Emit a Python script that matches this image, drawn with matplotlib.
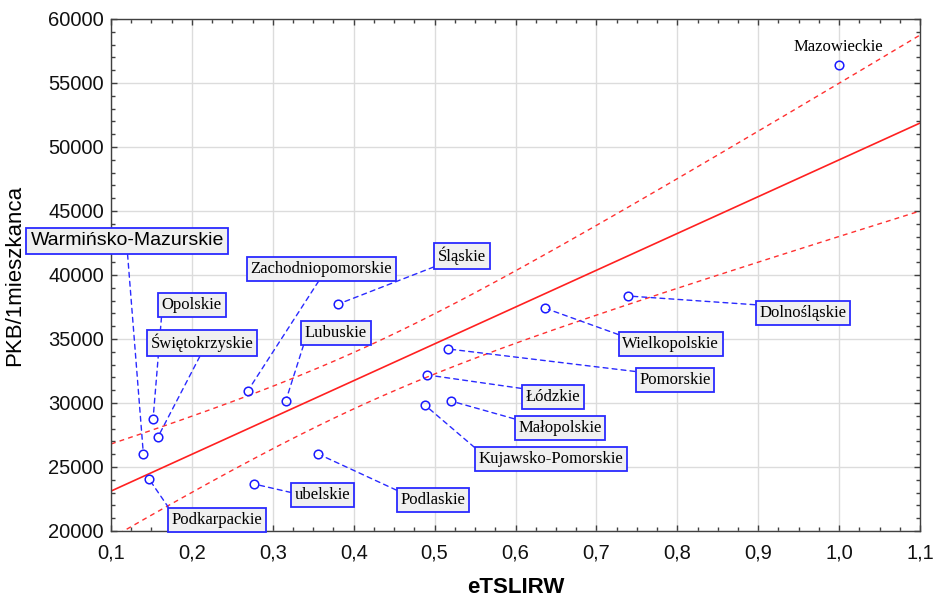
import numpy as np
import matplotlib
matplotlib.use("Agg")
import matplotlib.pyplot as plt
from matplotlib.ticker import MultipleLocator, FuncFormatter

# ---- data ----
regions = ["Mazowieckie", "Dolnośląskie", "Wielkopolskie", "Śląskie",
           "Zachodniopomorskie", "Lubuskie", "Opolskie", "Świętokrzyskie",
           "Warmińsko-Mazurskie", "Podkarpackie", "ubelskie", "Podlaskie",
           "Pomorskie", "Łódzkie", "Małopolskie", "Kujawsko-Pomorskie"]
etslirw = [1.000, 0.739, 0.636, 0.381, 0.269, 0.316, 0.152, 0.158,
           0.140, 0.147, 0.277, 0.356, 0.517, 0.491, 0.520, 0.488]
pkb = [56400, 38360, 37420, 37730, 30940, 30160, 28750, 27340,
       26020, 24060, 23670, 26020, 34220, 32190, 30160, 29840]

# ---- label layout (box centre in data coords, leader start rel. pos) ----
label_pos = [(0.999, 57810), (0.955, 37030), (0.792, 34610), (0.534, 41480),
             (0.360, 40470), (0.378, 35470), (0.200, 37660), (0.2125, 34690),
             (0.120, 42660), (0.231, 20860), (0.362, 22810), (0.498, 22420),
             (0.797, 31800), (0.646, 30470), (0.655, 28050), (0.644, 25625)]
leader_rel = [None, (0, 1), (0, 1), (0, 0),
              (0.5, 0), (0, 0), (0, 0), (0.5, 0),
              (0.5, 0), (0, 1), (0, 0.6), (0, 1),
              (0, 1), (0, 1), (0, 1), (0, 1)]

x = np.array(etslirw)
y = np.array(pkb, dtype=float)

# regression + 95% confidence band
n = len(x)
b1, b0 = np.polyfit(x, y, 1)
resid = y - (b0 + b1 * x)
s = np.sqrt(np.sum(resid ** 2) / (n - 2))
sxx = np.sum((x - x.mean()) ** 2)
t = 2.1448
xx = np.linspace(0.1, 1.1, 200)
yy = b0 + b1 * xx
hw = t * s * np.sqrt(1.0 / n + (xx - x.mean()) ** 2 / sxx)

fig = plt.figure(figsize=(9.34, 5.99), dpi=100)
ax = fig.add_axes([111 / 934, 1 - 531 / 599, 809 / 934, 512 / 599])

ax.grid(True, color="#dcdcdc", linewidth=1.0, zorder=0)
ax.set_axisbelow(True)

ax.plot(xx, yy, color="#ff2020", linewidth=1.2, zorder=2)
ax.plot(xx, yy + hw, color="#ff3030", linewidth=1.0, linestyle=(0, (3.5, 3)), zorder=2)
ax.plot(xx, yy - hw, color="#ff3030", linewidth=1.0, linestyle=(0, (3.5, 3)), zorder=2)

ax.plot(x, y, linestyle="none", marker="o", markersize=6.2,
        markerfacecolor="none", markeredgecolor="#1a1aff",
        markeredgewidth=1.1, zorder=4)

for i, name in enumerate(regions):
    lx, ly = label_pos[i]
    if leader_rel[i] is None:
        ax.text(lx, ly, name, family="Liberation Serif", fontsize=12,
                ha="center", va="center", zorder=5)
        continue
    if name.startswith("Warmi"):
        fam, fs = "Liberation Sans", 14
    else:
        fam, fs = "Liberation Serif", 12
    ax.annotate(name, xy=(x[i], y[i]), xytext=(lx, ly),
                textcoords="data", ha="center", va="center",
                family=fam, fontsize=fs, annotation_clip=False,
                bbox=dict(boxstyle="square,pad=0.22", facecolor="#f0f0f0",
                          edgecolor="#2a2aff", linewidth=1.3),
                arrowprops=dict(arrowstyle="-", color="#2a2aff",
                                linewidth=1.0, linestyle=(0, (3.5, 3)),
                                relpos=leader_rel[i], shrinkA=0, shrinkB=3),
                zorder=5)

ax.set_xlim(0.1, 1.1)
ax.set_ylim(20000, 60000)
ax.xaxis.set_major_locator(MultipleLocator(0.1))
ax.xaxis.set_minor_locator(MultipleLocator(0.025))
ax.yaxis.set_major_locator(MultipleLocator(5000))
ax.yaxis.set_minor_locator(MultipleLocator(1000))
ax.xaxis.set_major_formatter(FuncFormatter(lambda v, p: f"{v:.1f}".replace(".", ",")))
ax.yaxis.set_major_formatter(FuncFormatter(lambda v, p: f"{int(round(v))}"))

ax.tick_params(which="both", direction="in", top=True, right=True,
               color="#404040", width=1.0)
ax.tick_params(which="major", length=4)
ax.tick_params(which="minor", length=3)
ax.tick_params(axis="x", which="major", pad=9)
ax.tick_params(axis="y", which="major", pad=5)
for lab in ax.get_xticklabels() + ax.get_yticklabels():
    lab.set_family("Liberation Sans")
    lab.set_fontsize(14.5)
    lab.set_color("#111111")

for sp in ax.spines.values():
    sp.set_color("#404040")
    sp.set_linewidth(1.0)

ax.set_xlabel("eTSLIRW", family="Liberation Sans", fontsize=16,
              fontweight="bold")
ax.xaxis.set_label_coords(0.5, -0.09)
ax.set_ylabel("PKB/1mieszkanca", family="Liberation Sans", fontsize=16)
ax.yaxis.set_label_coords(-0.106, 0.5)

fig.savefig("out.png", dpi=100)
